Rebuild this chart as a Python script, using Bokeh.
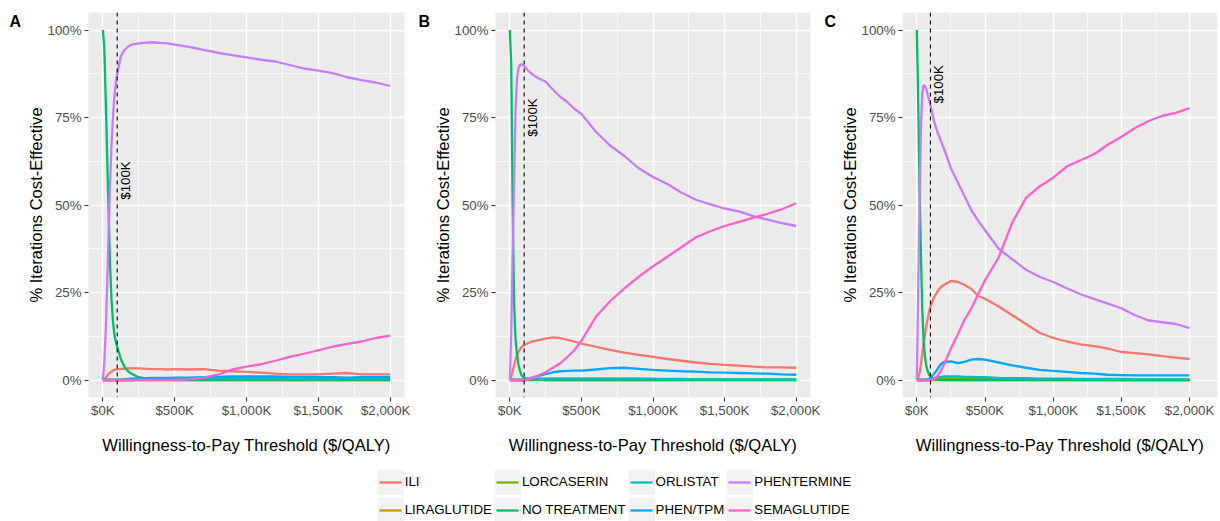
import math
from bokeh.plotting import figure
from bokeh.models import FixedTicker, Span, Legend, LegendItem, Range1d
from bokeh.layouts import row, column
from bokeh.embed import file_html
from bokeh.resources import INLINE
from bokeh.core.properties import value

# ---------------- data ----------------
WTP_K = [0, 10, 20, 30, 40, 50, 60, 70, 80, 90, 100, 125, 150, 175, 200,
         250, 300, 350, 400, 450, 500, 600, 700, 800, 900, 1000, 1100, 1200,
         1300, 1400, 1500, 1600, 1700, 1800, 1900, 2000]

TREATMENTS = ["ILI", "LIRAGLUTIDE", "LORCASERIN", "NO TREATMENT",
              "ORLISTAT", "PHEN/TPM", "PHENTERMINE", "SEMAGLUTIDE"]
COLORS = ["#F8766D", "#CD9600", "#7CAE00", "#00BE67",
          "#00BFC4", "#00A9FF", "#C77CFF", "#FF61CC"]

# Panel A
A_ILI = [0, .002, .006, .012, .017, .021, .024, .027, .029, .030, .031, .032, .032, .033, .033,
         .033, .032, .031, .031, .030, .031, .030, .031, .027, .025, .023, .021, .018,
         .016, .016, .016, .018, .020, .016, .016, .016]
A_LIRA = [0] * 36
A_LORC = [0] * 15 + [.001] * 6 + [.001, .002, .002, .002, .002, .002, .002, .002,
                                  .002, .002, .002, .002, .002, .002, .002]
A_NOTX = [1.0, .95, .80, .64, .48, .33, .23, .17, .13, .11, .095, .06, .038, .025, .018,
          .008, .004, .002, .001, .001, 0] + [0] * 15
A_ORL = [0] * 15 + [.001, .002, .002, .003, .003, .003, .004, .004, .005, .005, .005, .005,
                    .005, .005, .005, .005, .005, .005, .005, .005, .005]
A_PT = [0] * 11 + [.001, .002, .003, .004, .005, .005, .006, .006, .006, .007, .007, .008,
                   .009, .010, .010, .010, .010, .009, .009, .008, .008, .007, .008, .008, .008]
A_PHEN = [0, .05, .14, .27, .42, .56, .67, .75, .81, .85, .875, .925, .943, .953, .958,
          .962, .964, .965, .963, .962, .958, .952, .943, .935, .928, .922, .915, .910,
          .900, .890, .884, .877, .865, .857, .850, .840]
A_SEMA = [0] * 21 + [.002, .007, .015, .030, .038, .045, .055, .066, .075, .085, .095,
                     .103, .110, .120, .127]

# Panel B
B_ILI = [0, .01, .025, .042, .058, .07, .08, .087, .093, .097, .1, .105, .109, .112, .114,
         .118, .122, .12, .115, .11, .104, .095, .086, .078, .072, .066, .06, .055, .05,
         .046, .043, .041, .038, .036, .036, .035]
B_LIRA = [0] * 36
B_LORC = [0] * 11 + [.001, .002, .002, .003, .003, .003, .003, .003, .003, .003, .003, .003,
                     .003, .003, .003, .002, .002, .002, .002, .002, .001, .001, .001, .001, .001]
B_NOTX = [1.0, .9, .5, .22, .114, .075, .045, .028, .015, .01, .006, .003, .002, .001, .001] + [0] * 21
B_ORL = [0] * 11 + [.002, .003, .004, .004, .004, .004, .004, .004, .004, .004, .004, .004,
                    .004, .004, .003, .003, .003, .002, .002, .002, .002, .002, .002, .002, .002]
B_PT = [0] * 10 + [.001, .003, .006, .009, .012, .017, .022, .025, .026, .027, .027, .03,
                   .034, .035, .032, .029, .027, .025, .024, .022, .021, .02, .019, .018, .016, .015]
B_PHEN = [0, .14, .36, .57, .77, .86, .89, .90, .902, .90, .897, .885, .876, .868, .862,
          .852, .83, .81, .795, .775, .76, .71, .67, .64, .605, .58, .56, .535, .515,
          .502, .49, .482, .468, .458, .448, .44]
B_SEMA = [0] * 11 + [.002, .005, .009, .013, .022, .035, .047, .065, .085, .112, .18, .225,
                     .262, .295, .325, .352, .38, .408, .425, .44, .452, .463, .475, .488, .505]

# Panel C
C_ILI = [0, .005, .02, .045, .075, .105, .13, .155, .175, .195, .21, .235, .252, .265, .272,
         .283, .28, .272, .26, .24, .232, .21, .185, .16, .135, .12, .11, .102, .097,
         .09, .08, .077, .073, .068, .064, .06]
C_LIRA = [0] * 36
C_LORC = [0] * 10 + [.001, .002, .003, .004, .004, .004, .004, .003, .003, .003, .003,
                     .002, .002, .002, .001, .001, .001, .001, .001, 0, 0, 0, 0, 0, 0, 0]
C_NOTX = [1.0, .8, .55, .36, .2, .11, .065, .04, .025, .015, .01, .004, .002, .001] + [0] * 22
C_ORL = [0] * 10 + [.002, .005, .008, .009, .01, .01, .01, .009, .009, .008, .008, .006,
                    .005, .005, .004, .004, .004, .003, .003, .003, .003, .002, .002, .002, .002, .002]
C_PT = [0] * 8 + [.002, .004, .007, .017, .03, .045, .052, .053, .048, .052, .058, .06, .058,
                  .05, .042, .035, .029, .026, .023, .02, .018, .015, .014, .013, .013, .013,
                  .013, .013]
C_PHEN = [0, .25, .5, .72, .82, .843, .84, .83, .815, .8, .785, .742, .71, .684, .66,
          .605, .565, .525, .485, .455, .428, .375, .345, .315, .295, .28, .262, .245,
          .232, .218, .205, .185, .17, .165, .16, .148]
C_SEMA = [0] * 11 + [.003, .01, .025, .045, .09, .13, .172, .205, .245, .285, .35, .45,
                     .52, .553, .578, .61, .628, .645, .672, .695, .72, .74, .755, .763, .777]

X_TICKS = [0, 500, 1000, 1500, 2000]
X_MINOR = [250, 750, 1250, 1750]
X_TICK_LABELS = ["$0K", "$500K", "$1,000K", "$1,500K", "$2,000K"]
Y_TICKS = [0, 0.25, 0.5, 0.75, 1]
Y_MINOR = [0.125, 0.375, 0.625, 0.875]
Y_TICK_LABELS = ["0%", "25%", "50%", "75%", "100%"]
THRESHOLD_K = 100
THRESHOLD_LABEL = "$100K"
PANEL_TAGS = ["A", "B", "C"]
THRESHOLD_LABEL_Y = [0.57, 0.75, 0.845]
X_LIMITS = [(-100, 2100), (-100, 2100), (-105, 2205)]

PANEL_SERIES = [
    [A_ILI, A_LIRA, A_LORC, A_NOTX, A_ORL, A_PT, A_PHEN, A_SEMA],
    [B_ILI, B_LIRA, B_LORC, B_NOTX, B_ORL, B_PT, B_PHEN, B_SEMA],
    [C_ILI, C_LIRA, C_LORC, C_NOTX, C_ORL, C_PT, C_PHEN, C_SEMA],
]

# ---------------- layout / style ----------------
FONT = "Liberation Sans"
ROW_H = 460
FRAME_TOP = 12
FRAME_BOTTOM = 397
PANEL_GEOM = [  # (figure width, left border, right border)
    (410, 88, 6),
    (410, 85, 10),
    (400, 82, 3),
]
TAG_DX = [-79, -77, -78]   # tag offset relative to each panel's plotting area


def make_panel(i):
    width, left, right = PANEL_GEOM[i]
    p = figure(width=width, height=ROW_H,
               x_range=Range1d(*X_LIMITS[i]), y_range=Range1d(-0.05, 1.05),
               output_backend="svg", toolbar_location=None,
               min_border_left=left, min_border_right=right,
               min_border_top=FRAME_TOP, min_border_bottom=ROW_H - FRAME_BOTTOM)
    p.background_fill_color = "#EBEBEB"
    p.border_fill_color = "white"
    p.outline_line_color = None

    # panel tag (A / B / C) drawn as the plot title, pulled to the top-left corner
    p.title.text = PANEL_TAGS[i]
    p.title.align = "left"
    p.title.offset = TAG_DX[i]
    p.title.standoff = -34
    p.title.text_font = FONT
    p.title.text_font_size = "16px"
    p.title.text_font_style = "bold"
    p.title.text_color = "black"

    xa = p.xaxis[0]
    ya = p.yaxis[0]
    xa.ticker = FixedTicker(ticks=X_TICKS, minor_ticks=X_MINOR)
    ya.ticker = FixedTicker(ticks=Y_TICKS, minor_ticks=Y_MINOR)
    xa.major_label_overrides = dict(zip(X_TICKS, X_TICK_LABELS))
    ya.major_label_overrides = dict(zip(Y_TICKS, Y_TICK_LABELS))
    xa.axis_label = "Willingness-to-Pay Threshold ($/QALY)"
    ya.axis_label = "% Iterations Cost-Effective"
    for ax in (xa, ya):
        ax.axis_line_color = None
        ax.major_tick_line_color = "#333333"
        ax.major_tick_line_width = 1.1
        ax.major_tick_out = 4
        ax.major_tick_in = 0
        ax.minor_tick_line_color = None
        ax.major_label_standoff = 3
        ax.major_label_text_font = FONT
        ax.major_label_text_font_size = "13.3px"
        ax.major_label_text_color = "#4D4D4D"
        ax.axis_label_text_font = FONT
        ax.axis_label_text_font_size = "16.6px"
        ax.axis_label_text_font_style = "normal"
        ax.axis_label_text_color = "black"
    xa.major_label_standoff = 1
    xa.axis_label_standoff = 15
    ya.axis_label_standoff = -2

    p.grid.grid_line_color = "white"
    p.grid.grid_line_width = 1.5
    p.grid.minor_grid_line_color = "white"
    p.grid.minor_grid_line_width = 0.75

    for color, ys in zip(COLORS, PANEL_SERIES[i]):
        p.line(WTP_K, ys, line_color=color, line_width=2.3)

    p.add_layout(Span(location=THRESHOLD_K, dimension="height", line_color="black",
                      line_width=1.1, line_dash="4 4"))
    p.text(x=[THRESHOLD_K], y=[THRESHOLD_LABEL_Y[i]], text=[THRESHOLD_LABEL],
           angle=math.pi / 2, text_align="center", text_baseline="top",
           text_font=value(FONT), text_font_size="13.3px", text_color="black",
           x_offset=1)
    return p


panels = [make_panel(i) for i in range(3)]

# ---------------- legend ----------------
LEG_H = 521 - ROW_H
leg = figure(width=1220, height=LEG_H, x_range=Range1d(0, 1), y_range=Range1d(0, 1),
             output_backend="svg", toolbar_location=None, min_border=0,
             x_axis_location=None, y_axis_location=None)
leg.grid.visible = False
leg.outline_line_color = None
leg.background_fill_color = "white"

NAN = float("nan")
items = []
for name, color in zip(TREATMENTS, COLORS):
    bg = leg.line([NAN], [NAN], line_color="#F2F2F2", line_width=26, line_cap="butt")
    fg = leg.line([NAN], [NAN], line_color=color, line_width=2.3,
                  line_dash="22 100", line_dash_offset=120)
    items.append(LegendItem(label=name, renderers=[bg, fg]))

legend = Legend(items=items, location=(376.7, LEG_H - 8.3 - 54.4),
                orientation="vertical", nrows=2,
                glyph_width=27, glyph_height=26, label_standoff=1, spacing=2,
                padding=0, margin=0, border_line_color=None, background_fill_alpha=0,
                label_text_font=FONT, label_text_font_size="13.3px",
                label_text_color="black", label_height=20)
leg.add_layout(legend)

layout = column(row(*panels), leg)
open("out.html", "w").write(file_html(layout, INLINE))
